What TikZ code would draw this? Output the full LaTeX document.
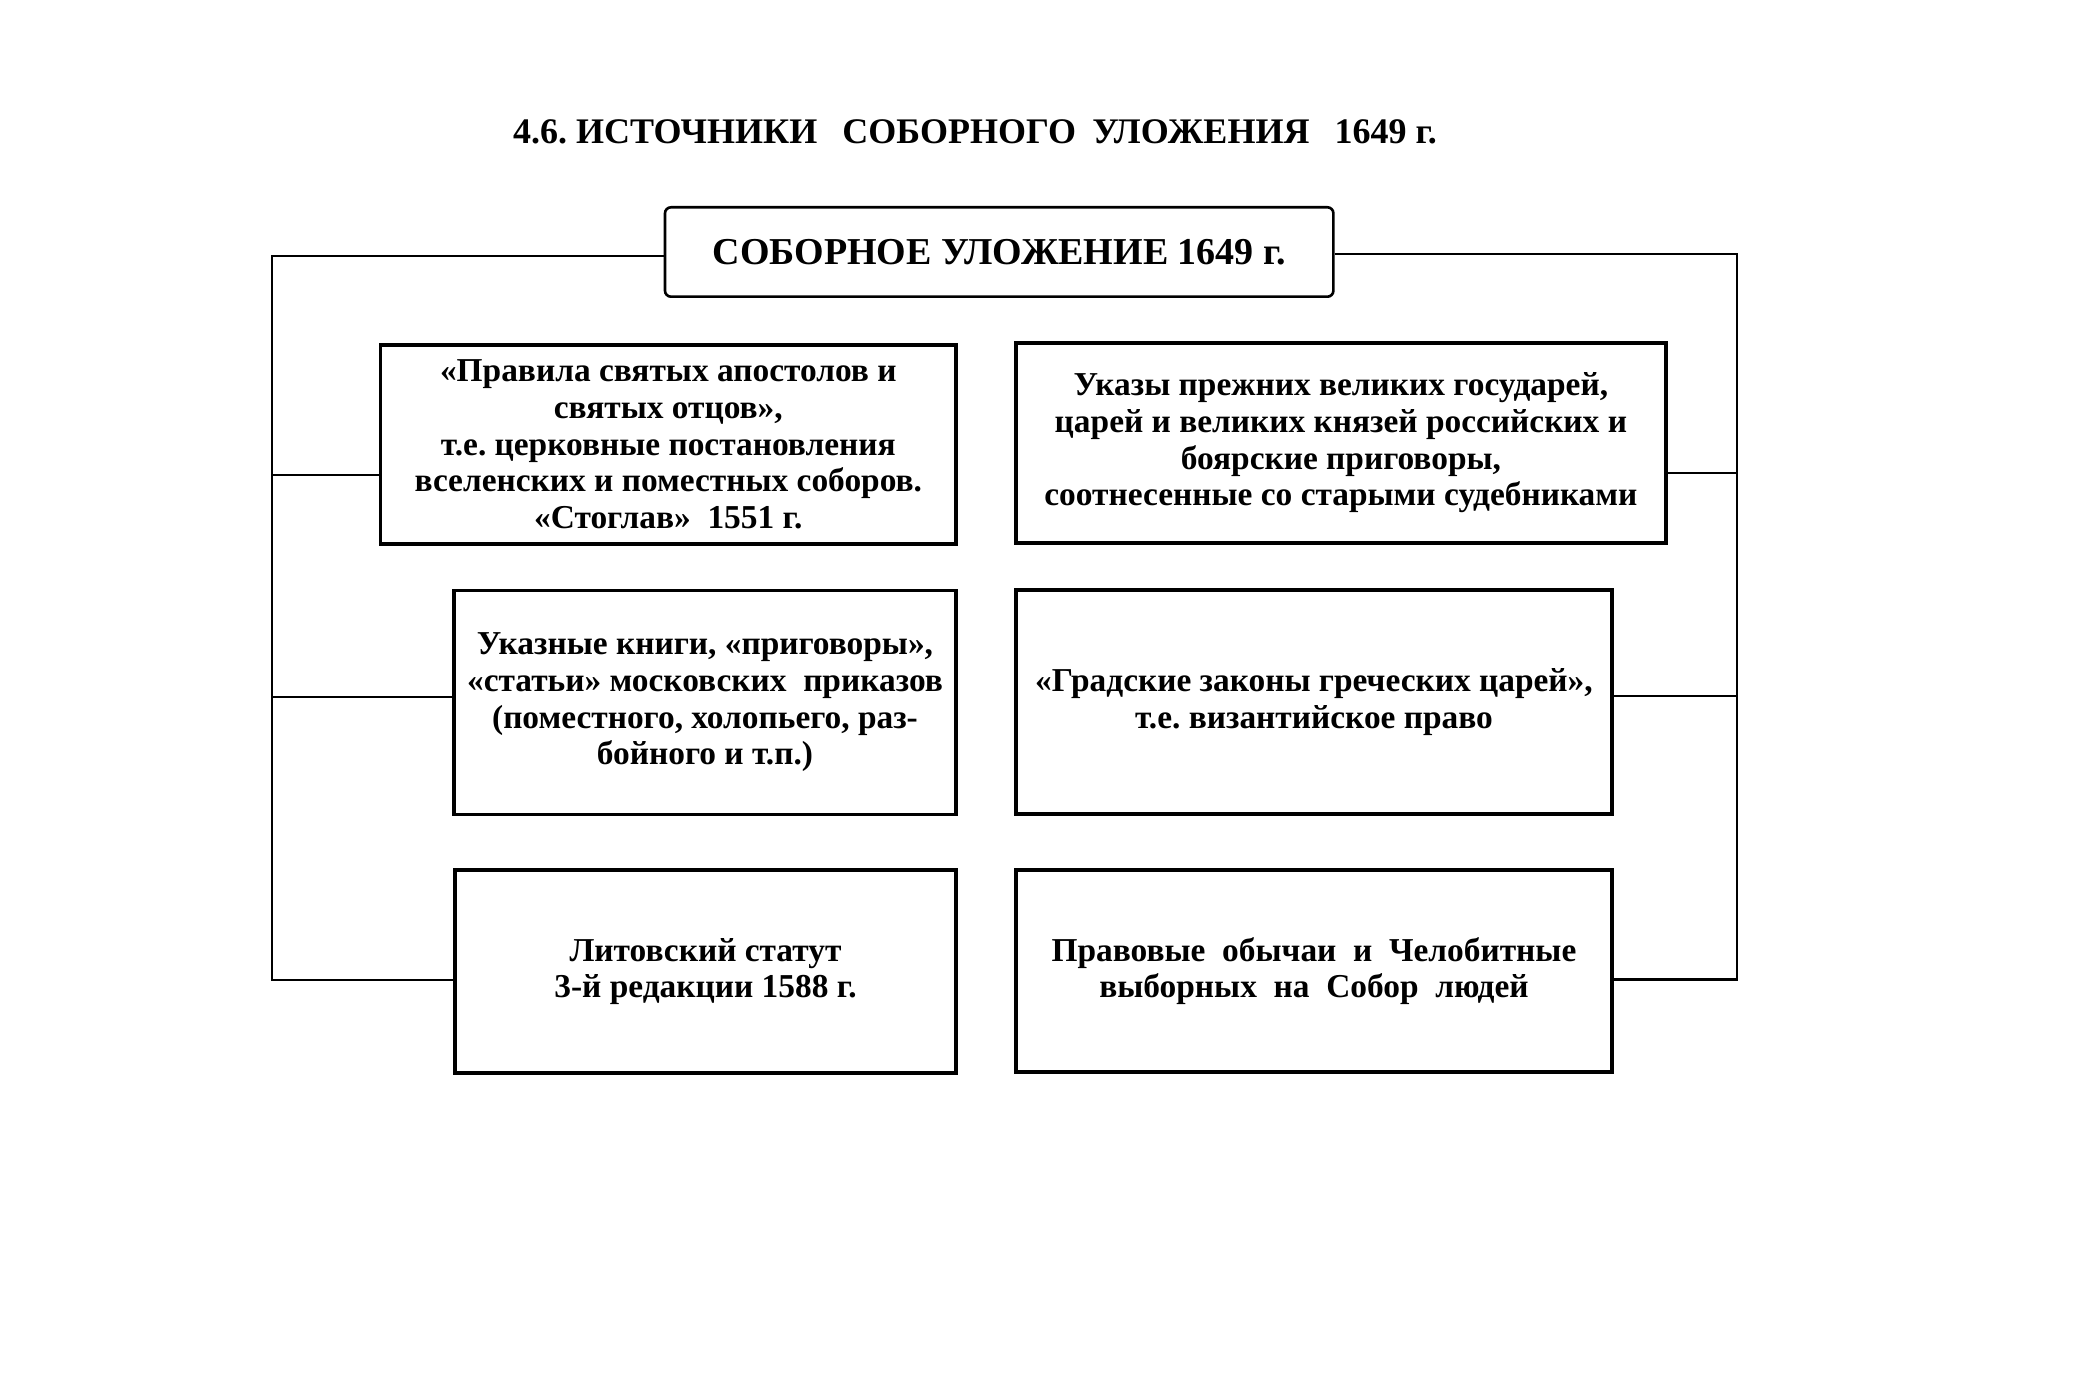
\documentclass[tikz,border=0pt]{standalone}
\usepackage{fontspec}
\setmainfont{Liberation Serif}
\usepackage{tikz}
\usetikzlibrary{calc}
\frenchspacing
\tikzstyle{block} = [draw, line width=1.9pt, rectangle, align=center,
    inner sep=0pt, font=\bfseries\fontsize{16.7}{18.3}\selectfont]
\tikzstyle{mainblock} = [draw, line width=1.3pt, rectangle, rounded corners=3pt,
    minimum width=334.2pt, minimum height=44.7pt, font=\bfseries\fontsize{19}{22}\selectfont]
\tikzstyle{bus} = [draw, line width=1.2pt]

\begin{document}
\begin{tikzpicture}[x=0.5pt, y=-0.5pt]
    \useasboundingbox (0,0) rectangle (2078,1385);
    % Heading
    \node [font=\bfseries\fontsize{18}{21}\selectfont] (title) at (975,132)
        {4.6. ИСТОЧНИКИ\hspace{0.7em}СОБОРНОГО\hspace{0.45em}УЛОЖЕНИЯ\hspace{0.7em}1649 г.};

    % We start by placing the blocks
    \node [mainblock] (code) at (999.2,252) {СОБОРНОЕ УЛОЖЕНИЕ 1649 г.};
    \node [block, minimum width=287.8pt, minimum height=99.5pt] (rules) at (668.3,444.5)
        {«Правила святых апостолов и\\ святых отцов»,\\ т.е. церковные постановления\\
         вселенских и поместных соборов.\\ «Стоглав»\ \ 1551 г.};
    \node [block, minimum width=324.9pt, minimum height=99.7pt] (decrees) at (1340.9,443)
        {Указы прежних великих государей,\\ царей и великих князей российских и\\
         боярские приговоры,\\ соотнесенные со старыми судебниками};
    \node [block, minimum width=251pt, minimum height=112pt] (books) at (705,702.5)
        {Указные книги, «приговоры»,\\ «статьи» московских\ \ приказов\\
         (поместного, холопьего, раз-\\ бойного и т.п.)};
    \node [block, minimum width=298pt, minimum height=112pt] (greek) at (1314,702)
        {«Градские законы греческих царей»,\\ т.е. византийское право};
    \node [block, minimum width=250.5pt, minimum height=101.5pt] (statute) at (705.5,971.5)
        {Литовский статут\\ 3-й редакции 1588 г.};
    \node [block, minimum width=298pt, minimum height=101pt] (customs) at (1314,971)
        {Правовые\ \ обычаи\ \ и\ \ Челобитные\\ выборных\ \ на\ \ Собор\ \ людей};

    % Once the nodes are placed, connecting them is easy.
    \coordinate (ltop) at (271.7,256);
    \coordinate (lmid1) at (271.7,475);
    \coordinate (lmid2) at (271.7,696.7);
    \coordinate (lbot) at (271.7,980);
    \coordinate (rtop) at (1736.7,254);
    \coordinate (rmid1) at (1736.7,473.3);
    \coordinate (rmid2) at (1736.7,696);
    \coordinate (rbot) at (1736.7,979.3);

    \draw [bus] (code.west |- ltop) -- (ltop) -- (lbot) -- (lbot -| statute.west);
    \draw [bus] (lmid1) -- (lmid1 -| rules.west);
    \draw [bus] (lmid2) -- (lmid2 -| books.west);
    \draw [bus] (code.east |- rtop) -- (rtop) -- (rbot) -- (rbot -| customs.east);
    \draw [bus] (rmid1) -- (rmid1 -| decrees.east);
    \draw [bus] (rmid2) -- (rmid2 -| greek.east);
\end{tikzpicture}
\end{document}
